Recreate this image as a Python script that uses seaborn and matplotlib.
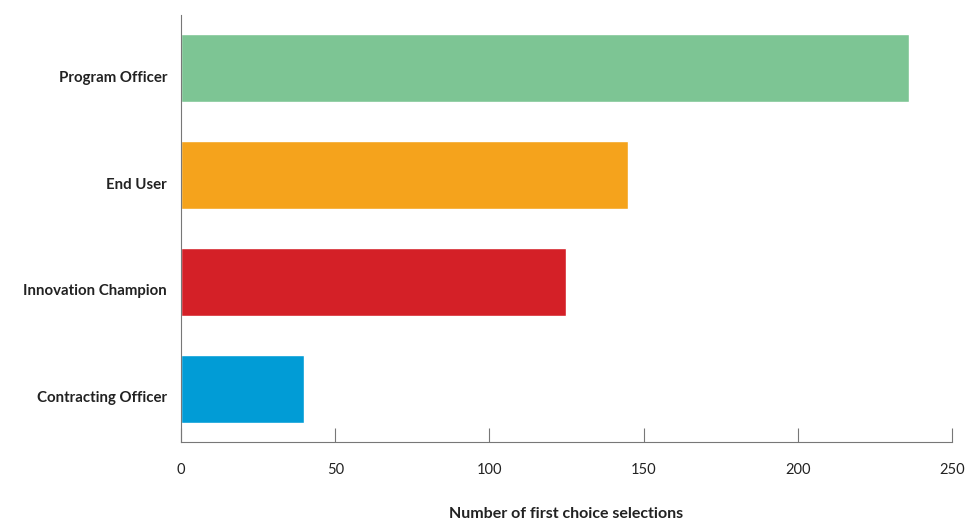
import matplotlib
matplotlib.use("Agg")
import matplotlib.pyplot as plt
import matplotlib.transforms as mtransforms
import seaborn as sns
import pandas as pd

roles = ["Program Officer", "End User", "Innovation Champion", "Contracting Officer"]
selections = [236, 145, 125, 40]
colors = ["#7DC594", "#F5A31C", "#D42027", "#019CD6"]
x_ticks = [0, 50, 100, 150, 200, 250]

sns.set_style("white")
plt.rcParams["font.family"] = ["Lato", "DejaVu Sans"]

df = pd.DataFrame({"role": roles, "count": selections})

fig = plt.figure(figsize=(9.8, 5.21), dpi=100)
ax = fig.add_axes([0.1847, 0.1516, 0.7867, 0.8196])

sns.barplot(data=df, x="count", y="role", hue="role", palette=colors,
            order=roles, hue_order=roles, width=0.635, legend=False,
            saturation=1, ax=ax)

ax.set_xlim(0, 250)
ax.set_ylim(3.5, -0.5)
ax.set_xticks(x_ticks)
ax.set_xticklabels([str(t) for t in x_ticks], fontsize=10.5, color="#222222")
ax.tick_params(axis="x", bottom=True, direction="in", length=10, width=0.8,
               color="#777777", pad=15)
ax.tick_params(axis="y", left=False, length=0, pad=10)

# category labels sit slightly below the bar centres
shift = mtransforms.ScaledTranslation(0, -8 / 100, fig.dpi_scale_trans)
for lbl in ax.get_yticklabels():
    lbl.set_fontsize(10.8)
    lbl.set_fontweight("bold")
    lbl.set_color("#222222")
    lbl.set_transform(lbl.get_transform() + shift)

ax.set_ylabel("")
ax.set_xlabel("Number of first choice selections", fontsize=11.5,
              fontweight="bold", color="#222222", labelpad=22)

for side in ["top", "right"]:
    ax.spines[side].set_visible(False)
for side in ["left", "bottom"]:
    ax.spines[side].set_color("#777777")
    ax.spines[side].set_linewidth(0.8)

fig.savefig("out.png", dpi=100, facecolor="white")
